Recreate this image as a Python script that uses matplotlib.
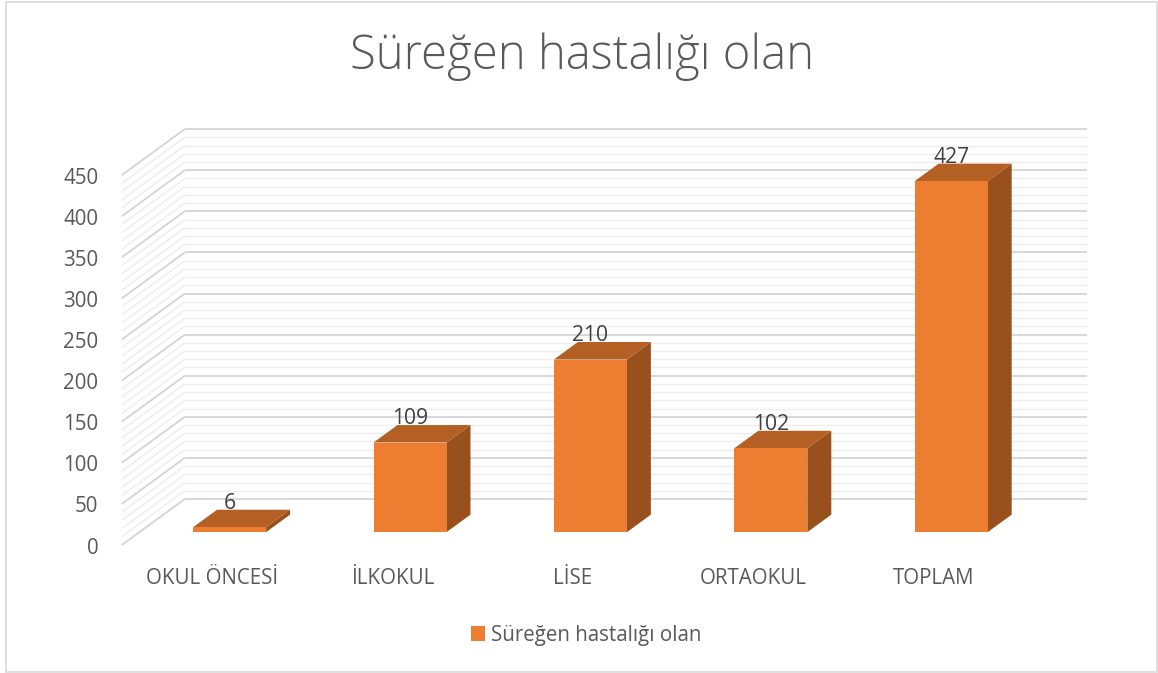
import matplotlib
matplotlib.use("Agg")
import matplotlib.pyplot as plt
from matplotlib.patches import Polygon, Patch, Rectangle

# ---- data ----
categories = ["OKUL ÖNCESİ", "İLKOKUL", "LİSE", "ORTAOKUL", "TOPLAM"]
values = [6, 109, 210, 102, 427]
series_name = "Süreğen hastalığı olan"
title = "Süreğen hastalığı olan"
y_ticks = list(range(0, 451, 50))
y_minor = list(range(0, 451, 10))

# ---- styles ----
FRONT = "#ED7D31"
TOP = "#B45F23"
SIDE = "#98501D"
TXT = "#595959"
MAJOR = "#D4D4D4"
MINOR = "#EEEEEE"
FONT = ["Open Sans", "DejaVu Sans"]
FS = 14.8

W, H = 1158, 673
fig = plt.figure(figsize=(W / 100, H / 100), dpi=100)
ax = fig.add_axes([0, 0, 1, 1])
ax.set_axis_off()

# projection geometry (pixels)
x0_px, cat_px = 212.0, 180.4      # front-plane position of first category, spacing
y0_px, val_px = 545.0, 0.822      # front-plane pixel (from top) of value 0, pixels per unit
ax.set_xlim((0 - x0_px) / cat_px, (W - x0_px) / cat_px)
ax.set_ylim((y0_px - H) / val_px, y0_px / val_px)

DX = 63.0 / cat_px       # full depth shift (x, data units)
DY = 46.0 / val_px       # full depth shift (y, data units)
f1, f2 = 0.28, 0.66      # bar front/back depth fractions
hw = 36.5 / cat_px       # bar half-width
xl, xr = -0.5, 4.5       # floor extents (front plane)
px = 1.0 / val_px        # one pixel in value units

# gridlines: back wall + side wall
for v in y_minor:
    major = v in y_ticks
    col = MAJOR if major else MINOR
    lw = 1.3 if major else 1.0
    z = 2 if major else 1
    ax.plot([xl + DX, xr + DX], [v + DY, v + DY], color=col, lw=lw, zorder=z,
            solid_capstyle="butt")
    ax.plot([xl, xl + DX], [v, v + DY], color=col, lw=lw, zorder=z,
            solid_capstyle="butt")

# bars
for i, v in enumerate(values):
    cx = i + f1 * DX
    by = f1 * DY
    ddx = (f2 - f1) * DX
    ddy = (f2 - f1) * DY
    L, R = cx - hw, cx + hw
    front = [(L, by), (R, by), (R, by + v), (L, by + v)]
    top = [(L, by + v), (R, by + v), (R + ddx, by + v + ddy), (L + ddx, by + v + ddy)]
    side = [(R, by), (R + ddx, by + ddy), (R + ddx, by + v + ddy), (R, by + v)]
    ax.add_patch(Polygon(side, closed=True, fc=SIDE, ec="none", zorder=5))
    ax.add_patch(Polygon(top, closed=True, fc=TOP, ec="none", zorder=5))
    ax.add_patch(Polygon(front, closed=True, fc=FRONT, ec="none", zorder=6))
    ax.text(cx, by + v + ddy + 1.0, str(v), ha="center", va="baseline",
            fontsize=FS + 0.4, color="#404040", family=FONT, zorder=7)

# y tick labels
for v in y_ticks:
    ax.text((98.5 - x0_px) / cat_px, v - 3 * px, str(v), ha="right", va="center",
            fontsize=FS, color=TXT, family=FONT)

# category labels
for i, c in enumerate(categories):
    ax.text(i, (y0_px - 579) / val_px, c, ha="center", va="center",
            fontsize=FS, color=TXT, family=FONT)

# title
fig.text(582 / W, 1 - 57 / H, title, ha="center", va="center", fontsize=34,
         color=TXT, family=FONT, fontweight="light")

# legend
leg = fig.legend(handles=[Patch(facecolor=FRONT, edgecolor="none", label=series_name)],
                 loc="center", bbox_to_anchor=(586 / W, 1 - 635 / H), frameon=False,
                 prop={"family": FONT, "size": FS}, handlelength=0.7, handleheight=0.7,
                 handletextpad=0.3, labelcolor=TXT)

# chart border
fig.patches.append(Rectangle((6 / W, 1 / H), (W - 7) / W, (H - 3) / H,
                             transform=fig.transFigure, fill=False, ec="#D9D9D9", lw=1.2))

fig.savefig("out.png", dpi=100)
